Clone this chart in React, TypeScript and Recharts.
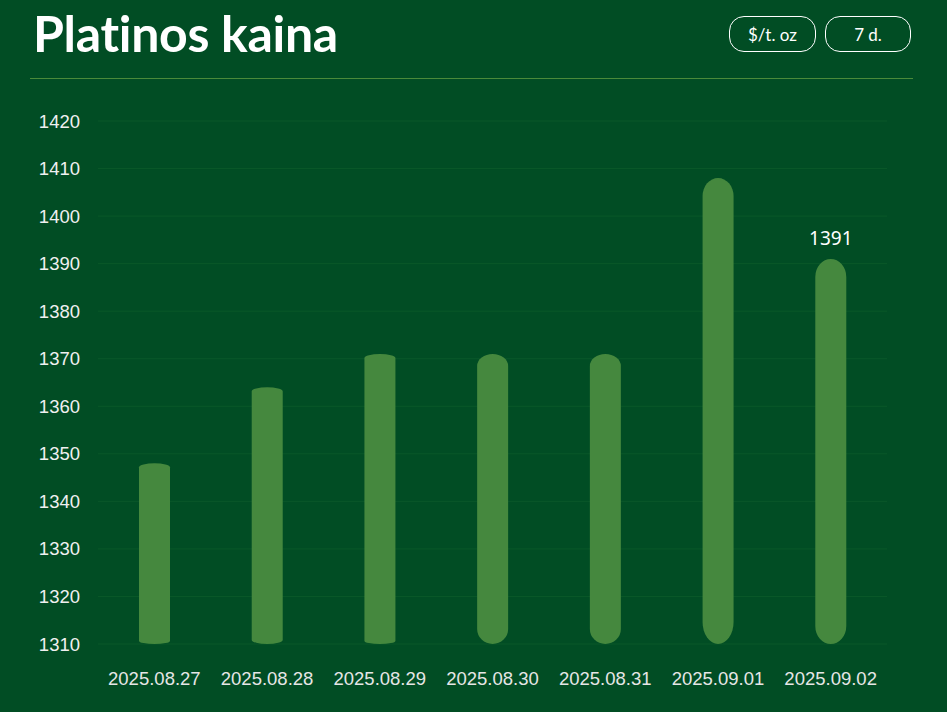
import React from "react";
import { BarChart, Bar, XAxis, YAxis, CartesianGrid, LabelList } from "recharts";

const dates = [
  "2025.08.27",
  "2025.08.28",
  "2025.08.29",
  "2025.08.30",
  "2025.08.31",
  "2025.09.01",
  "2025.09.02",
];
const prices = [1348, 1364, 1371, 1371, 1371, 1408, 1391];
const yTicks = [1310, 1320, 1330, 1340, 1350, 1360, 1370, 1380, 1390, 1400, 1410, 1420];

const chartData = dates.map((date, i) => ({ date, price: prices[i] }));

// how deep the rounded ends of each bar are (px)
const topCurve = [4, 4, 4, 12, 12, 18, 18];
const bottomCurve = [3, 4, 3, 15, 15, 22, 18];

const BG = "#014D24";
const BAR = "#45883E";

function PillBar(props: any) {
  const { x, y, width, height, index } = props;
  if (height <= 0) return null;
  const r = width / 2;
  const t = topCurve[index] ?? 4;
  const b = bottomCurve[index] ?? 4;
  const d = `M${x},${y + t} A${r},${t} 0 0 1 ${x + width},${y + t} L${x + width},${
    y + height - b
  } A${r},${b} 0 0 1 ${x},${y + height - b} Z`;
  return <path d={d} fill={BAR} />;
}

function LastLabel(props: any) {
  const { x, y, width, value, index } = props;
  if (index !== prices.length - 1) return null;
  return (
    <text
      x={x + width / 2}
      y={y - 14}
      textAnchor="middle"
      fill="#ffffff"
      fontSize={19}
      fontFamily="'Noto Sans', sans-serif"
    >
      {value}
    </text>
  );
}

const pill: React.CSSProperties = {
  position: "absolute",
  top: 16,
  height: 36,
  border: "1px solid #ffffff",
  borderRadius: 15,
  color: "#ffffff",
  fontFamily: "Lato, sans-serif",
  fontSize: 17,
  display: "flex",
  alignItems: "center",
  justifyContent: "center",
  boxSizing: "border-box",
};

const tickFont = "'Liberation Sans', Arial, sans-serif";

export default function App() {
  return (
    <div
      style={{
        position: "absolute",
        left: 0,
        top: 0,
        width: 947,
        height: 712,
        background: BG,
        overflow: "hidden",
      }}
    >
      <div
        style={{
          position: "absolute",
          left: 33,
          top: 3,
          color: "#ffffff",
          fontFamily: "Lato, sans-serif",
          fontWeight: 700,
          fontSize: 50,
          letterSpacing: -0.3,
          whiteSpace: "nowrap",
        }}
      >
        Platinos kaina
      </div>
      <div style={{ ...pill, left: 729, width: 87 }}>$/t. oz</div>
      <div style={{ ...pill, left: 825, width: 86 }}>7 d.</div>
      <div
        style={{
          position: "absolute",
          left: 30,
          top: 78,
          width: 883,
          height: 1,
          background: "#4B8A3A",
        }}
      />
      <div style={{ position: "absolute", left: 0, top: 0 }}>
        <BarChart
          width={947}
          height={712}
          data={chartData}
          margin={{ top: 121, right: 60, left: 0, bottom: 0 }}
        >
          <CartesianGrid vertical={false} stroke="#0A5829" strokeWidth={1} />
          <XAxis
            dataKey="date"
            axisLine={false}
            tickLine={false}
            tickSize={0}
            tickMargin={28}
            height={68}
            interval={0}
            tick={{ fill: "#E6E6E6", fontSize: 18.5, fontFamily: tickFont }}
          />
          <YAxis
            domain={[1310, 1420]}
            ticks={yTicks}
            axisLine={false}
            tickLine={false}
            tickSize={0}
            tickMargin={18}
            width={98}
            interval={0}
            tick={{ fill: "#F0F0F0", fontSize: 18.5, fontFamily: tickFont }}
          />
          <Bar dataKey="price" barSize={31} shape={PillBar} isAnimationActive={false}>
            <LabelList dataKey="price" content={LastLabel} />
          </Bar>
        </BarChart>
      </div>
    </div>
  );
}
